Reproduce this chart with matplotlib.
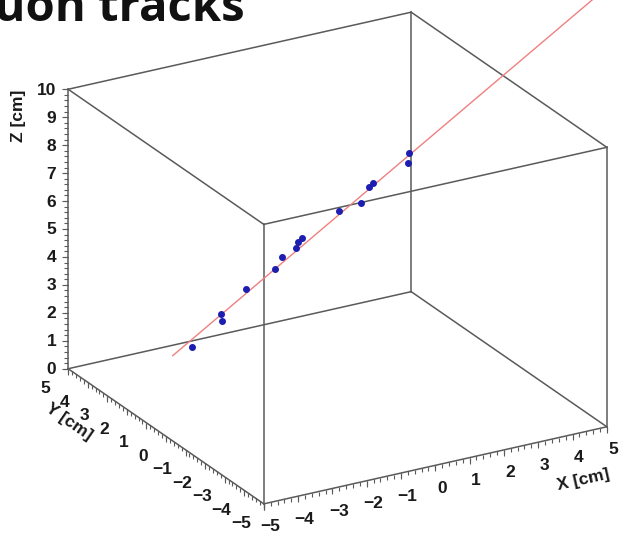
import numpy as np
import matplotlib
matplotlib.use("Agg")
import matplotlib.pyplot as plt
from matplotlib.transforms import offset_copy
from mpl_toolkits.mplot3d import proj3d
from itertools import product, combinations

# hits on the track (cm)
hit_x = [-1.95, -1.45, -1.43, -1.01, -0.51, -0.39, -0.15, -0.11, -0.05, 0.59, 0.97, 1.10, 1.17, 1.79, 1.77]
hit_y = [4.03, 3.42, 3.40, 2.88, 2.28, 2.13, 1.84, 1.80, 1.72, 0.95, 0.49, 0.33, 0.24, -0.51, -0.49]
hit_z = [0.42, 1.76, 1.48, 2.76, 3.63, 4.10, 4.50, 4.72, 4.89, 6.05, 6.46, 7.08, 7.24, 8.51, 8.14]

# fitted straight track (two end points)
fit_x = [-2.28, 5.5]
fit_y = [4.42, -5.0]
fit_z = [0.0, 16.1]

# frame and axis labels
x_range = [-5, 5]
y_range = [-5, 5]
z_range = [0, 10]
x_labels = [-5, -4, -3, -2, -1, 0, 1, 2, 3, 4, 5]
y_labels = [-5, -4, -3, -2, -1, 0, 1, 2, 3, 4, 5]
z_labels = [0, 1, 2, 3, 4, 5, 6, 7, 8, 9, 10]

box_col = "#5a5a5a"
lab_font = dict(family="Liberation Sans", fontweight="bold", fontsize=12.5, color="#1a1a1a")

fig = plt.figure(figsize=(6.25, 5.37), dpi=100)
ax = fig.add_axes([0.0089, -0.0986, 1.0342, 1.2037], projection="3d",
                  proj_type="ortho", computed_zorder=False)
ax.view_init(elev=23.2, azim=-119.7)
ax.set_box_aspect((1, 1, 0.77), zoom=0.955)
ax.set_xlim(*x_range)
ax.set_ylim(*y_range)
ax.set_zlim(*z_range)
ax.set_axis_off()
M = ax.get_proj()


def fmt(v):
    return str(v).replace("-", "\u2212")


def to_2d(x, y, z):
    px, py, _ = proj3d.proj_transform(x, y, z, M)
    return px, py


def label(x, y, z, s, dx, dy, rot=0, **kw):
    # text placed at the projected 3d point, shifted by (dx, dy) pixels
    px, py = to_2d(x, y, z)
    tr = offset_copy(ax.transData, fig=fig, x=dx, y=dy, units="dots")
    fig.text(px, py, s, transform=tr, rotation=rot, **kw, **lab_font)


def screen_angle(p0, p1):
    a = ax.transData.transform(to_2d(*p0))
    b = ax.transData.transform(to_2d(*p1))
    return np.degrees(np.arctan2(b[1] - a[1], b[0] - a[0]))


# box edges
corners = list(product(x_range, y_range, z_range))
for a, b in combinations(corners, 2):
    if sum(p != q for p, q in zip(a, b)) == 1:
        ax.plot(*zip(a, b), color=box_col, lw=1.1)

# ticks, 10 primary / 5 secondary divisions like ROOT
def tick_pos(lo, hi):
    minor = np.round(np.arange(lo, hi + 1e-9, (hi - lo) / 50), 6)
    major = np.round(np.arange(lo, hi + 1e-9, (hi - lo) / 10), 6)
    return major, minor

mx, nx = tick_pos(*x_range)
ax.plot(nx, [y_range[0]] * len(nx), [z_range[0]] * len(nx), ls="none", marker=3, ms=2.6, mew=0.8, color=box_col)
ax.plot(mx, [y_range[0]] * len(mx), [z_range[0]] * len(mx), ls="none", marker=3, ms=4.6, mew=0.8, color=box_col)

my, ny = tick_pos(*y_range)
ax.plot([x_range[0]] * len(ny), ny, [z_range[0]] * len(ny), ls="none", marker=3, ms=2.6, mew=0.8, color=box_col)
ax.plot([x_range[0]] * len(my), my, [z_range[0]] * len(my), ls="none", marker=3, ms=4.6, mew=0.8, color=box_col)

mz, nz = tick_pos(*z_range)
ax.plot([x_range[0]] * len(nz), [y_range[1]] * len(nz), nz, ls="none", marker=0, ms=2.6, mew=0.8, color=box_col)
ax.plot([x_range[0]] * len(mz), [y_range[1]] * len(mz), mz, ls="none", marker=0, ms=4.6, mew=0.8, color=box_col)

# tick labels
for v in x_labels:
    label(v, y_range[0], z_range[0], fmt(v), 6.5, -23, ha="center", va="center")
for v in y_labels:
    label(x_range[0], v, z_range[0], fmt(v), -23, -20, ha="center", va="center")
for v in z_labels:
    label(x_range[0], y_range[1], v, fmt(v), -12, -1, ha="right", va="center")

# axis titles, rotated along their axes
x_rot = screen_angle((x_range[0], y_range[0], 0), (x_range[1], y_range[0], 0))
y_rot = screen_angle((x_range[0], y_range[1], 0), (x_range[0], y_range[0], 0))
label(x_range[1], y_range[0], z_range[0], "X [cm]", -23, -53, rot=x_rot, ha="center", va="center")
label(x_range[0], y_range[1], z_range[0], "Y [cm]", 1, -53, rot=y_rot, ha="center", va="center")
label(x_range[0], y_range[1], z_range[1], "Z [cm]", -50, 0, rot=90, ha="center", va="top")

# fitted track and hits
ax.plot(fit_x, fit_y, fit_z, color="#f08080", lw=1.0)
ax.plot(hit_x, hit_y, hit_z, ls="none", marker="o", ms=4, color="#1d1db0")

fig.text(0.392, 0.961, "muon tracks", ha="right", va="baseline", fontsize=34,
         fontweight="bold", family="Open Sans", color="#111111")

fig.savefig("out.png", dpi=100)
